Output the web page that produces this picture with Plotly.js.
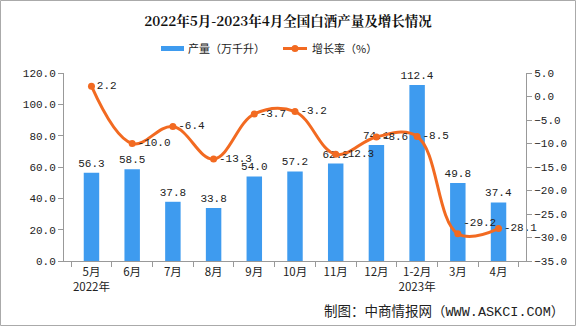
<!DOCTYPE html>
<html><head><meta charset="utf-8">
<script src="https://cdn.plot.ly/plotly-3.0.1.min.js"></script>
<style>html,body{margin:0;padding:0;background:#fff}#c{width:576px;height:326px}</style>
</head><body><div id="c"></div>
<script>
const categories = ["5月<br>2022年","6月","7月","8月","9月","10月","11月","12月","1-2月<br>2023年","3月","4月"];
const output = [56.3,58.5,37.8,33.8,54.0,57.2,62.2,74.1,112.4,49.8,37.4];
const growth = [2.2,-10.0,-6.4,-13.3,-3.7,-3.2,-12.3,-8.6,-8.5,-29.2,-28.1];
const growthPos = ["middle right","middle right","middle right","middle right","middle right","middle right","middle right","middle right","middle right","top right","middle right"];
const seriesNames = ["产量（万千升）","增长率（%）"];

const mono = "Liberation Mono, DejaVu Sans Mono, monospace";
const cjk = "Noto Sans CJK SC, sans-serif";
const barColor = '#3E9BEF', lineColor = '#F26A21';

const traces = [
  {type:'bar', name:seriesNames[0], x:categories, y:output,
   marker:{color:barColor}, texttemplate:'%{y:.1f}', textposition:'outside', constraintext:'none',
   textfont:{family:mono, size:11, color:'#222'}, cliponaxis:false, hoverinfo:'skip'},
  {type:'scatter', mode:'lines+markers+text', name:seriesNames[1], x:categories, y:growth, yaxis:'y2',
   line:{color:lineColor, width:3, shape:'spline', smoothing:1.1},
   marker:{color:lineColor, size:7}, texttemplate:'%{y:.1f}', textposition:growthPos,
   textfont:{family:mono, size:11, color:'#222'}, cliponaxis:false, hoverinfo:'skip'}
];

const P = (px)=>(px-64)/462, Q = (py)=>(261-py)/188;

const layout = {
  width:576, height:326, margin:{l:64, r:50, t:73, b:65},
  paper_bgcolor:'#fff', plot_bgcolor:'#fff',
  title:{text:'<b>2022年5月-2023年4月全国白酒产量及增长情况</b>', x:0.5, xanchor:'center', y:0.935, yanchor:'middle',
    font:{family:'Noto Serif CJK SC, Noto Sans CJK SC, serif', size:13.5, color:'#111'}},
  showlegend:false,
  bargap:0.62,
  xaxis:{type:'category', showline:true, linecolor:'#999', ticks:'outside', tickson:'boundaries', ticklen:5,
    tickangle:0, tickcolor:'#999', tickfont:{family:cjk, size:11.5, color:'#222'}, showgrid:false, fixedrange:true},
  yaxis:{range:[0,120], dtick:20, tickformat:'.1f', showline:true, linecolor:'#999', ticks:'outside',
    tickcolor:'#999', ticklen:5, showgrid:false, zeroline:false, tickfont:{family:mono, size:11, color:'#222'}},
  yaxis2:{range:[-35,5], dtick:5, tickformat:'.1f', overlaying:'y', side:'right', showline:true, linecolor:'#999',
    ticks:'outside', tickcolor:'#999', ticklen:5, showgrid:false, zeroline:false,
    tickfont:{family:mono, size:11, color:'#222'}},
  annotations:[
    {text:'制图：中商情报网（WWW.ASKCI.COM）', xref:'paper', yref:'paper', x:P(566), y:Q(312),
     xanchor:'right', yanchor:'middle', showarrow:false, font:{family:'Liberation Mono, ' + cjk, size:13.5, color:'#222'}},
    {text:seriesNames[0], xref:'paper', yref:'paper', x:P(186), y:Q(48), xanchor:'left', yanchor:'middle',
     showarrow:false, font:{family:cjk, size:11, color:'#222'}},
    {text:seriesNames[1], xref:'paper', yref:'paper', x:P(310), y:Q(48), xanchor:'left', yanchor:'middle',
     showarrow:false, font:{family:cjk, size:11, color:'#222'}}
  ],
  shapes:[
    {type:'rect', xref:'paper', yref:'paper', x0:P(0.5), x1:P(575.5), y0:Q(325.5), y1:Q(0.5), line:{color:'#aaa', width:1}},
    {type:'rect', xref:'paper', yref:'paper', x0:P(161), x1:P(184), y0:Q(51), y1:Q(46), fillcolor:barColor, line:{width:0}},
    {type:'line', xref:'paper', yref:'paper', x0:P(283), x1:P(307), y0:Q(48.5), y1:Q(48.5), line:{color:lineColor, width:3}},
    {type:'circle', xref:'paper', yref:'paper', x0:P(291.5), x1:P(298.5), y0:Q(52), y1:Q(45), fillcolor:lineColor, line:{width:0}}
  ]
};
Plotly.newPlot('c', traces, layout, {displayModeBar:false, staticPlot:true});
</script></body></html>
